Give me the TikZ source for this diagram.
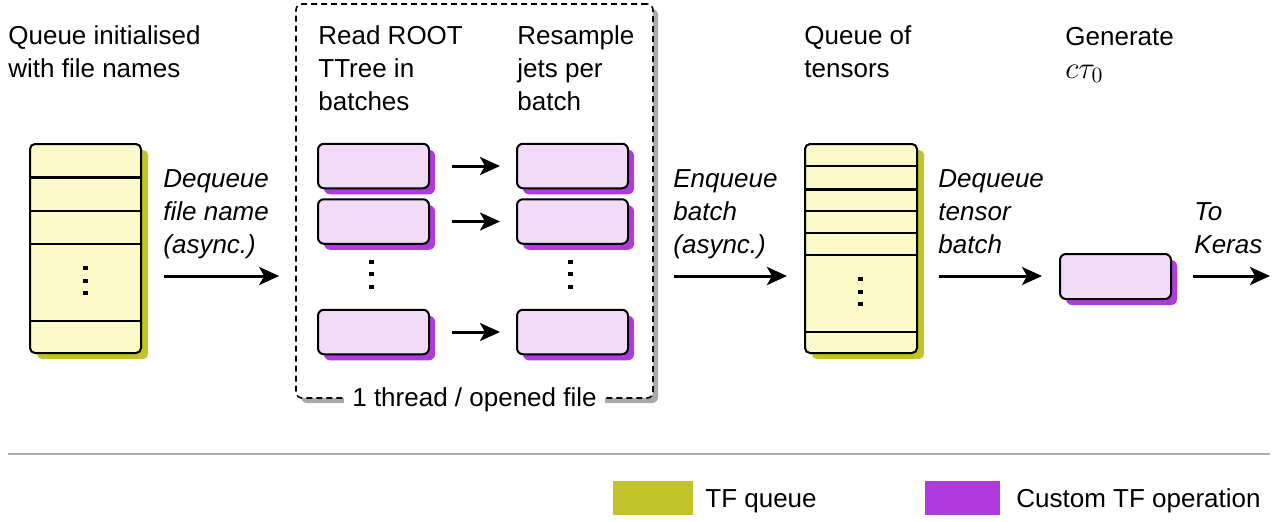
\RequirePackage{fix-cm}
\documentclass[tikz,border=0pt]{standalone}
\usepackage{fontspec}
\setmainfont{Liberation Sans}
\usetikzlibrary{arrows.meta,shadows,calc}
\definecolor{qfill}{HTML}{FBFAC8}
\definecolor{qshadow}{HTML}{C2C22B}
\definecolor{opfill}{HTML}{F2DAF8}
\definecolor{opshadow}{HTML}{B03BDD}
\definecolor{gshadow}{HTML}{A9A9A9}
\definecolor{sepgray}{HTML}{AAAAAA}
\begin{document}
\begin{tikzpicture}[x=0.5pt,y=-0.5pt,
 txt/.style={anchor=base west, align=left, inner sep=0pt, font=\fontsize{13}{16.5}\selectfont},
 lbl/.style={txt, font=\fontsize{13}{16.5}\selectfont\itshape},
 queue/.style={draw=black, line width=1pt, fill=qfill, rounded corners=2.5pt, minimum height=104.5pt, inner sep=0pt,
   drop shadow={shadow xshift=3.5pt, shadow yshift=-3pt, fill=qshadow, opacity=1}},
 op/.style={draw=black, line width=1pt, fill=opfill, rounded corners=3pt, minimum width=55.5pt, minimum height=22.25pt, inner sep=0pt,
   drop shadow={shadow xshift=3pt, shadow yshift=-3pt, fill=opshadow, opacity=1}},
 group/.style={draw=black, line width=0.8pt, dash pattern=on 3pt off 2pt, fill=white, rounded corners=3pt, inner sep=0pt,
   minimum width=178.5pt, minimum height=197pt,
   drop shadow={shadow xshift=2.5pt, shadow yshift=-2.5pt, fill=gshadow, opacity=1}},
 arr/.style={line width=1.5pt, -{Stealth[length=10pt,width=9pt,inset=2.5pt]}},
 sepline/.style={line width=1pt},
 thicksep/.style={line width=1.5pt},
 dot/.style={fill=black},
 legbox/.style={inner sep=0pt, minimum width=40pt, minimum height=17pt},
]
\useasboundingbox (0,0) rectangle (1280,521);

% group (drawn first, filled white)
\node[group] (grp) at (474.5,201) {};
\node[txt, anchor=base, fill=white, inner xsep=4pt] (thr) at ($(grp.south)+(0,8)$) {1 thread / opened file};

% titles (anchor = baseline of last line)
\node[txt] (t1) at (8,77) {Queue initialised\\with file names};
\node[txt] (t2) at (318,110) {Read ROOT\\TTree in\\batches};
\node[txt] (t3) at (517,110) {Resample\\jets per\\batch};
\node[txt] (t4) at (804,77) {Queue of\\tensors};
\node[txt] (t5) at (1065,78) {Generate\\{\fontsize{15.5}{16.5}\selectfont$c\tau_0$}};

% left queue
\node[queue, minimum width=55.5pt] (q1) at (85.5,248.5) {};
\draw[thicksep] (q1.west |- 0,177) -- (q1.east |- 0,177);
\foreach \yy in {211,244,321}
  \draw[sepline] (q1.west |- 0,\yy) -- (q1.east |- 0,\yy);
\foreach \yy in {268,281,293}
  \fill[dot] (83,\yy-2) rectangle (88,\yy+2);

% ops
\node[op] (a1) at (373.5,166) {};
\node[op] (a2) at (373.5,221.5) {};
\node[op] (a3) at (373.5,332) {};
\node[op] (b1) at (572.5,166) {};
\node[op] (b2) at (572.5,221.5) {};
\node[op] (b3) at (572.5,332) {};
\draw[arr, shorten <=11pt, shorten >=8pt] (a1) -- (b1);
\draw[arr, shorten <=11pt, shorten >=8pt] (a2) -- (b2);
\draw[arr, shorten <=11pt, shorten >=8pt] (a3) -- (b3);
\foreach \xx in {371,570}
  \foreach \yy in {262,274,287}
    \fill[dot] (\xx-2.5,\yy-2) rectangle (\xx+2.5,\yy+2);

% right queue
\node[queue, minimum width=56pt] (q2) at (861,248.5) {};
\draw[thicksep] (q2.west |- 0,189) -- (q2.east |- 0,189);
\foreach \yy in {166,211,233,255,332}
  \draw[sepline] (q2.west |- 0,\yy) -- (q2.east |- 0,\yy);
\foreach \yy in {279,292,304}
  \fill[dot] (858,\yy-2) rectangle (863,\yy+2);

% final op
\node[op, minimum height=22.5pt] (fop) at (1115.5,276.5) {};

% main arrows
\coordinate (r) at (0,276);
\coordinate (keras) at (1270,276);
\draw[arr, shorten <=11pt, shorten >=8pt] (q1.east |- r) -- (grp.west |- r);
\draw[arr, shorten <=10pt, shorten >=8.5pt] (grp.east |- r) -- (q2.west |- r);
\draw[arr, shorten <=10.5pt, shorten >=8.5pt] (q2.east |- r) -- (fop.west |- r);
\draw[arr, shorten <=10.5pt] (fop.east |- r) -- (keras);

% arrow labels
\node[lbl] (l1) at (163,253) {Dequeue\\file name\\(async.)};
\node[lbl] (l2) at (673,253) {Enqueue\\batch\\(async.)};
\node[lbl] (l3) at (938,253) {Dequeue\\tensor\\batch};
\node[lbl] (l4) at (1194,253) {To\\Keras};

% separator
\draw[sepgray, line width=1pt] (8,454) -- (1270,454);

% legend
\node[legbox, fill=qshadow] (lg1) at (653,498) {};
\node[txt] (lt1) at (705,507) {TF queue};
\node[legbox, fill=opshadow, minimum width=37.5pt] (lg2) at (962.5,498) {};
\node[txt] (lt2) at (1016,507) {Custom TF operation};
\end{tikzpicture}
\end{document}
